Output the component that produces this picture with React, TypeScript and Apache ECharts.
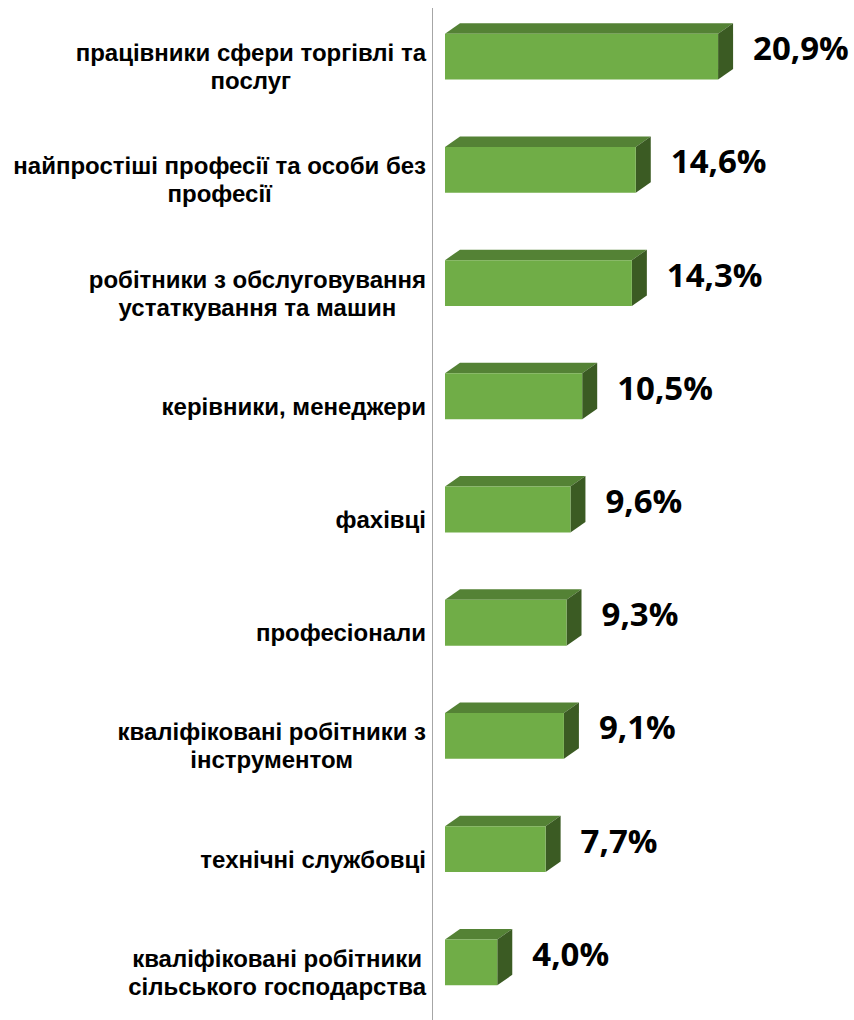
import React, { useEffect, useRef } from "react";
import * as echarts from "echarts";

const categories = [
  "працівники сфери торгівлі та\nпослуг",
  "найпростіші професії та особи без\nпрофесії",
  "робітники з обслуговування\nустаткування та машин",
  "керівники, менеджери",
  "фахівці",
  "професіонали",
  "кваліфіковані робітники з\nінструментом",
  "технічні службовці",
  "кваліфіковані робітники\nсільського господарства",
];
const values = [20.9, 14.6, 14.3, 10.5, 9.6, 9.3, 9.1, 7.7, 4.0];
const valueLabels = ["20,9%", "14,6%", "14,3%", "10,5%", "9,6%", "9,3%", "9,1%", "7,7%", "4,0%"];

const FRONT = "#70AD47";
const TOP = "#548235";
const SIDE = "#3B5B23";

export default function App() {
  const ref = useRef<HTMLDivElement>(null);
  useEffect(() => {
    if (!ref.current) return;
    const chart = echarts.init(ref.current, undefined, { renderer: "svg" });
    const DX = 15;
    const DY = -10.5;
    chart.setOption({
      animation: false,
      backgroundColor: "#ffffff",
      grid: { left: 445, right: 17, top: -3, bottom: 1, containLabel: false },
      xAxis: { type: "value", min: 0, max: 30, show: false },
      yAxis: {
        type: "category",
        data: categories,
        inverse: true,
        axisLine: { show: false },
        axisTick: { show: false },
        splitLine: { show: false },
        axisLabel: {
          margin: 19,
          padding: [20, 0, 0, 0],
          formatter: (v: string) => v.split("\n").map((l) => `{a|${l}}`).join("\n"),
          rich: {
            a: {
              align: "center",
              fontFamily: "Liberation Sans, Arial, sans-serif",
              fontWeight: "bold",
              fontSize: 24,
              lineHeight: 28,
              color: "#000000",
            },
          },
        },
      },
      graphic: [
        {
          type: "line",
          shape: { x1: 432.5, y1: 8, x2: 432.5, y2: 1020 },
          style: { stroke: "#A6A6A6", lineWidth: 1 },
          z: 1,
        },
      ],
      series: [
        {
          type: "custom",
          data: values.map((v, i) => [v, i]),
          encode: { x: 0, y: 1 },
          renderItem: (params: any, api: any) => {
            const v = api.value(0);
            const idx = api.value(1);
            const start = api.coord([0, idx]);
            const end = api.coord([v, idx]);
            const band = api.size([0, 1])[1];
            const h = band * 0.405;
            const x0 = start[0];
            const x1 = end[0];
            const yT = start[1] - h / 2;
            const yB = start[1] + h / 2;
            return {
              type: "group",
              children: [
                {
                  type: "polygon",
                  shape: { points: [[x0, yT], [x0 + DX, yT + DY], [x1 + DX, yT + DY], [x1, yT]] },
                  style: { fill: TOP },
                },
                {
                  type: "polygon",
                  shape: { points: [[x1, yT], [x1 + DX, yT + DY], [x1 + DX, yB + DY], [x1, yB]] },
                  style: { fill: SIDE },
                },
                {
                  type: "rect",
                  shape: { x: x0, y: yT, width: x1 - x0, height: yB - yT },
                  style: { fill: FRONT },
                },
                {
                  type: "text",
                  x: x1 + 35,
                  y: start[1] - 9,
                  style: {
                    text: valueLabels[idx],
                    fontFamily: "Open Sans, sans-serif",
                    fontWeight: "bold",
                    fontSize: 33,
                    fill: "#000000",
                    align: "left",
                    verticalAlign: "middle",
                  },
                },
              ],
            };
          },
        },
      ],
    });
    return () => chart.dispose();
  }, []);
  return (
    <div
      ref={ref}
      style={{ position: "fixed", left: 0, top: 0, width: 854, height: 1020, background: "#fff" }}
    />
  );
}
